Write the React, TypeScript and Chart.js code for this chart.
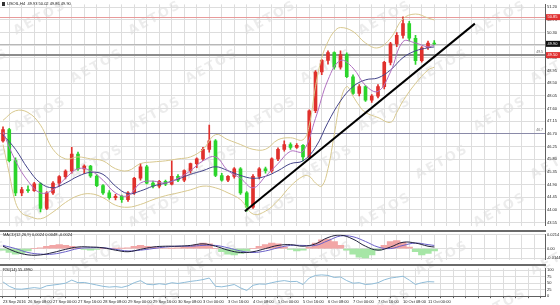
import React, { useEffect, useRef } from 'react';
import { Chart, registerables } from 'chart.js';

Chart.register(...registerables);

// ---------------- data ----------------
const TITLE_MAIN = 'USOIL,H4  49.93 50.02 49.86 49.90';
const TITLE_MACD = 'MACD(12,26,9) 0.0024 0.0048 -0.0024';
const TITLE_RSI = 'RSI(14) 55.4990';

const OPEN = [46.45, 46.85, 45.75, 44.60, 44.72, 44.68, 44.92, 44.05, 44.60, 44.95, 45.18, 45.38, 45.98, 45.45, 45.55, 45.20, 44.86, 44.60, 44.43, 44.48,
  44.36, 44.60, 45.12, 45.53, 44.95, 44.84, 45.01, 44.91, 45.19, 45.05, 45.39, 45.64, 45.81, 46.15, 46.45, 45.22, 45.05, 45.19, 45.46, 44.60,
  44.09, 45.19, 45.46, 45.39, 45.81, 46.15, 46.32, 46.22, 46.29, 45.88, 47.52, 48.90, 49.31, 49.59, 49.07, 49.52, 48.73, 48.14, 48.38, 47.90,
  48.04, 48.38, 49.24, 49.90, 50.20, 50.62, 50.10, 49.30, 49.76, 49.93];
const HIGH = [46.95, 46.90, 45.85, 44.80, 44.85, 44.98, 44.96, 44.65, 45.00, 45.22, 45.42, 46.22, 46.05, 45.60, 45.58, 45.25, 44.90, 44.68, 44.55, 44.52,
  44.65, 45.15, 45.64, 45.58, 45.02, 45.05, 45.06, 45.74, 45.25, 45.42, 45.66, 45.85, 46.22, 47.01, 46.50, 45.30, 45.22, 45.50, 45.50, 44.65,
  45.25, 45.50, 45.52, 45.85, 46.20, 46.45, 46.38, 46.35, 46.32, 47.55, 48.95, 49.35, 49.65, 49.62, 49.65, 49.58, 48.80, 48.45, 48.42, 48.10,
  48.45, 49.28, 49.95, 50.30, 50.86, 50.70, 50.20, 49.80, 50.00, 50.02];
const LOW = [46.40, 45.70, 44.50, 44.50, 44.62, 44.65, 43.92, 44.00, 44.55, 44.85, 45.10, 45.30, 45.40, 45.28, 45.15, 44.82, 44.55, 44.38, 44.35, 44.26,
  44.30, 44.55, 45.05, 44.92, 44.78, 44.78, 44.86, 44.88, 45.00, 45.00, 45.30, 45.50, 45.75, 46.05, 45.18, 45.02, 45.00, 45.12, 44.55, 43.95,
  44.05, 45.10, 45.30, 45.33, 45.75, 46.08, 46.15, 46.18, 45.74, 45.85, 47.45, 48.80, 49.18, 49.00, 49.00, 48.70, 48.10, 48.05, 47.85, 47.82,
  47.98, 48.30, 49.15, 49.80, 50.10, 50.00, 49.17, 49.25, 49.70, 49.86];
const CLOSE = [46.85, 45.75, 44.60, 44.72, 44.68, 44.92, 44.05, 44.60, 44.95, 45.18, 45.38, 45.98, 45.45, 45.55, 45.20, 44.86, 44.60, 44.43, 44.48, 44.36,
  44.60, 45.12, 45.53, 44.95, 44.84, 45.01, 44.91, 45.19, 45.05, 45.39, 45.64, 45.81, 46.15, 46.45, 45.22, 45.05, 45.19, 45.46, 44.60, 44.09,
  45.19, 45.46, 45.39, 45.81, 46.15, 46.32, 46.22, 46.29, 45.88, 47.52, 48.90, 49.31, 49.59, 49.07, 49.52, 48.73, 48.14, 48.38, 47.90, 48.04,
  48.38, 49.24, 49.90, 50.20, 50.62, 50.10, 49.30, 49.76, 49.93, 49.90];

const UPPER_IDX = [0, 2, 4, 6, 8, 10, 12, 14, 16, 18, 20, 22, 24, 26, 28, 30, 32, 34, 36, 38, 40, 42, 44, 46, 48, 49, 50, 51, 52, 53, 54, 56, 58, 60, 62, 64, 66, 68, 69];
const UPPER_VAL = [47.18, 47.52, 47.46, 47.01, 46.15, 45.81, 45.88, 45.81, 45.74, 45.46, 45.39, 45.64, 45.70, 45.74, 45.81, 45.88, 46.15, 46.67, 46.49, 46.32,
  46.15, 46.15, 46.49, 46.56, 46.49, 47.01, 48.38, 49.41, 49.98, 50.34, 50.48, 50.34, 49.93, 49.76, 50.10, 50.79, 50.96, 50.82, 50.75];
const LOWER_IDX = [0, 1, 2, 3, 4, 6, 8, 10, 12, 14, 16, 18, 20, 22, 24, 26, 28, 30, 32, 34, 36, 38, 40, 42, 44, 46, 48, 49, 50, 51, 52, 53, 54, 55, 56, 57, 58, 60, 62, 63, 64, 66, 68, 69];
const LOWER_VAL = [46.32, 45.29, 44.26, 43.88, 43.78, 43.68, 43.92, 44.26, 44.50, 44.57, 44.43, 44.16, 44.09, 44.19, 44.36, 44.50, 44.60, 44.71, 44.84, 44.78,
  44.60, 44.36, 43.85, 43.95, 44.33, 44.84, 45.19, 45.19, 44.95, 44.84, 45.46, 46.67, 47.87, 48.38, 48.04, 47.70, 47.46, 47.28, 47.11, 47.46,
  47.87, 48.49, 48.97, 49.07];

const MA_IDX = [0, 2, 4, 6, 8, 10, 12, 14, 16, 18, 20, 22, 24, 26, 28, 30, 32, 34, 36, 38, 40, 42, 44, 46, 48, 50, 52, 54, 56, 58, 60, 62, 64, 66, 68, 69];
const MA_SLOW = [46.67, 46.15, 45.46, 44.95, 44.78, 44.95, 45.19, 45.33, 45.26, 44.84, 44.57, 44.67, 44.84, 44.95, 45.09, 45.26, 45.39, 45.53, 45.39, 45.22,
  45.12, 45.19, 45.39, 45.64, 45.74, 46.22, 47.11, 47.87, 48.38, 48.62, 48.69, 48.97, 49.41, 49.65, 49.76, 49.79];
const MA_FAST = [46.77, 45.74, 45.02, 44.60, 44.71, 45.12, 45.46, 45.39, 45.05, 44.60, 44.50, 44.95, 45.02, 44.95, 45.12, 45.39, 45.74, 45.88, 45.39, 45.12,
  44.78, 45.19, 45.64, 46.08, 46.08, 47.25, 48.62, 49.31, 49.04, 48.42, 48.21, 48.90, 49.98, 49.93, 49.79, 49.86];

const MACD_HIST = [-0.0024, -0.0060, -0.0084, -0.0072, -0.0036, 0.0000, 0.0012, 0.0036, 0.0048, 0.0060,
  0.0048, 0.0036, 0.0012, -0.0012, -0.0024, -0.0012, 0.0000, 0.0000, 0.0004, 0.0004,
  0.0012, 0.0036, 0.0048, 0.0036, 0.0024, 0.0012, 0.0006, 0.0004, 0.0012, 0.0024,
  0.0036, 0.0060, 0.0084, 0.0072, 0.0000, -0.0048, -0.0084, -0.0096, -0.0072, -0.0036,
  0.0000, 0.0036, 0.0060, 0.0084, 0.0072, 0.0024, -0.0012, -0.0036, -0.0024, 0.0024,
  0.0084, 0.0132, 0.0144, 0.0108, 0.0048, -0.0024, -0.0084, -0.0132, -0.0144, -0.0096,
  -0.0024, 0.0048, 0.0108, 0.0120, 0.0096, 0.0024, -0.0048, -0.0096, -0.0072, -0.0036];
const MACD_MAIN = [0.0036, -0.0048, -0.0096, -0.0096, -0.0060, -0.0012, 0.0024, 0.0024, 0.0012, -0.0024, -0.0048, -0.0012, 0.0024, 0.0036, 0.0036, 0.0048,
  0.0072, 0.0036, -0.0024, -0.0060, -0.0048, 0.0000, 0.0048, 0.0060, 0.0036, 0.0072, 0.0168, 0.0204, 0.0144, 0.0036, -0.0024, 0.0024, 0.0096, 0.0084, 0.0036, 0.0024];
const MACD_SIGNAL = [0.0048, 0.0000, -0.0060, -0.0084, -0.0084, -0.0048, 0.0000, 0.0012, 0.0012, -0.0012, -0.0036, -0.0024, 0.0000, 0.0024, 0.0036, 0.0036,
  0.0048, 0.0048, 0.0012, -0.0036, -0.0060, -0.0036, 0.0012, 0.0048, 0.0048, 0.0048, 0.0120, 0.0192, 0.0180, 0.0108, 0.0024, 0.0000, 0.0048, 0.0084, 0.0060, 0.0048];

const RSI = [55, 38, 28, 27, 30, 33, 30, 40, 43, 46, 50, 62, 52, 53, 48, 43, 38, 35, 37, 34,
  40, 52, 60, 46, 44, 48, 45, 52, 49, 53, 57, 60, 64, 70, 38, 36, 40, 45, 32, 22,
  42, 47, 46, 52, 57, 60, 56, 57, 45, 70, 80, 82, 80, 72, 74, 60, 50, 52, 45, 47,
  52, 63, 70, 73, 77, 62, 45, 52, 56, 55];

const TIME_LABELS = ['23 Sep 2016', '26 Sep 08:00', '27 Sep 00:00', '27 Sep 16:00', '28 Sep 08:00', '29 Sep 00:00', '29 Sep 16:00', '30 Sep 08:00',
  '3 Oct 00:00', '3 Oct 16:00', '4 Oct 08:00', '5 Oct 00:00', '5 Oct 16:00', '6 Oct 08:00', '7 Oct 00:00', '7 Oct 16:00', '10 Oct 08:00', '11 Oct 00:00'];

const PRICE_TICKS = [51.20, 50.75, 50.30, 49.85, 49.40, 48.95, 48.50, 48.05, 47.60, 47.15, 46.70, 46.25, 45.80, 45.35, 44.90, 44.45, 44.00, 43.55];
const MACD_TICKS = [0.0214, 0, -0.0144];
const RSI_TICKS = [100, 75, 50, 25, 0];

const TREND_X = [38.7, 75.5];
const TREND_Y = [43.95, 50.62];

const LEVEL_HIGH = 50.85;
const LEVEL_SUPPORT = 49.50;
const LEVEL_LOW = 46.73;

// ---------------- style ----------------
const FONT = '"Liberation Sans", Arial, sans-serif';
const GRID = '#dddddd';
const AXIS = '#606060';
const UP = '#e0302c';
const DOWN = '#2bd42b';
const X_MIN = -0.48;
const X_MAX = 86.72;

const WM_POS: [number, number][] = [];
for (let r = 0; r < 7; r++) {
  for (let c = -1; c < 6; c++) {
    WM_POS.push([40 + c * 115 + (r % 2) * 57, 18 + r * 48]);
  }
}

function watermark(offsetY: number) {
  return {
    id: 'wm' + offsetY,
    beforeDraw(chart: any) {
      const ctx = chart.ctx;
      ctx.save();
      ctx.font = 'bold 13px "DejaVu Sans", sans-serif';
      ctx.fillStyle = 'rgba(0,0,0,0.075)';
      ctx.textAlign = 'center';
      ctx.textBaseline = 'middle';
      try { (ctx as any).letterSpacing = '2px'; } catch (e) { /* ignore */ }
      for (const [x, y] of WM_POS) {
        const yy = y - offsetY;
        if (yy < -30 || yy > chart.height + 30) continue;
        ctx.save();
        ctx.translate(x, yy);
        ctx.rotate(-0.5);
        ctx.fillText('AETOS', 0, 0);
        ctx.restore();
      }
      ctx.restore();
    },
  };
}

function xScale(showLabels: boolean): any {
  return {
    type: 'linear',
    min: X_MIN,
    max: X_MAX,
    offset: false,
    afterBuildTicks: (s: any) => {
      const t = [];
      for (let v = 0; v <= 86; v += 2) t.push({ value: v });
      s.ticks = t;
    },
    grid: { color: GRID, lineWidth: 1, drawTicks: showLabels, tickLength: 2, tickColor: AXIS },
    border: { display: showLabels, color: AXIS },
    ticks: showLabels
      ? {
          display: true, autoSkip: false, maxRotation: 0, minRotation: 0, align: 'start', padding: 1,
          font: { size: 4, family: FONT }, color: '#222',
          callback: (v: any) => {
            const n = Math.round(Number(v));
            return n % 4 === 0 && n / 4 < TIME_LABELS.length ? TIME_LABELS[n / 4] : '';
          },
        }
      : { display: false },
  };
}

function yScale(min: number, max: number, ticks: number[], fmt: (v: number) => string): any {
  return {
    type: 'linear',
    position: 'right',
    min, max,
    afterBuildTicks: (s: any) => { s.ticks = ticks.map((v) => ({ value: v })); },
    afterFit: (s: any) => { s.width = 15; },
    grid: { color: GRID, drawTicks: false },
    border: { display: true, color: AXIS, width: 1 },
    ticks: { autoSkip: false, padding: 2, font: { size: 4, family: FONT }, color: '#222', callback: (v: any) => fmt(Number(v)) },
  };
}

function pts(idx: number[], vals: number[]) {
  return idx.map((x, i) => ({ x, y: vals[i] }));
}

const baseOptions = {
  responsive: false,
  animation: false as const,
  devicePixelRatio: 1,
  events: [] as any[],
};

function separator() {
  return {
    id: 'sep',
    afterDraw(chart: any) {
      const ctx = chart.ctx;
      ctx.save();
      ctx.fillStyle = '#6a6a6a';
      ctx.fillRect(0, 0, chart.chartArea.right + 1, 2);
      ctx.restore();
    },
  };
}

function title(text: string, y: number, icon: boolean) {
  return {
    id: 'title' + text.length,
    afterDraw(chart: any) {
      const ctx = chart.ctx;
      ctx.save();
      ctx.font = '4px ' + FONT;
      ctx.fillStyle = '#111';
      ctx.textBaseline = 'middle';
      let x = 3;
      if (icon) {
        ctx.fillStyle = '#333';
        ctx.fillRect(2, y - 2, 3, 4);
        ctx.fillStyle = '#111';
        x = 7;
      }
      ctx.fillText(text, x, y);
      ctx.restore();
    },
  };
}

const mainDeco = {
  id: 'mainDeco',
  beforeDatasetsDraw(chart: any) {
    const ctx = chart.ctx;
    const ys = chart.scales.y;
    const { left, right } = chart.chartArea;
    ctx.save();
    const line = (v: number, color: string, w: number) => {
      const y = Math.round(ys.getPixelForValue(v)) + (w % 2 ? 0.5 : 0);
      ctx.strokeStyle = color;
      ctx.lineWidth = w;
      ctx.beginPath();
      ctx.moveTo(left, y);
      ctx.lineTo(right, y);
      ctx.stroke();
    };
    line(LEVEL_HIGH, '#e89a9a', 1);
    line(CLOSE[CLOSE.length - 1], '#b8b8b8', 1);
    line(LEVEL_SUPPORT, '#8c8c8c', 2);
    line(LEVEL_LOW, '#8a8aa8', 1);
    ctx.font = '3.5px ' + FONT;
    ctx.fillStyle = '#666';
    ctx.textAlign = 'right';
    ctx.textBaseline = 'bottom';
    ctx.fillText(LEVEL_SUPPORT.toFixed(1), right - 2, ys.getPixelForValue(LEVEL_SUPPORT) - 1);
    ctx.fillText(LEVEL_LOW.toFixed(1), right - 2, ys.getPixelForValue(LEVEL_LOW) - 1);
    ctx.restore();
  },
  afterDraw(chart: any) {
    const ctx = chart.ctx;
    const ys = chart.scales.y;
    const { right } = chart.chartArea;
    ctx.save();
    const box = (v: number, bg: string) => {
      const y = ys.getPixelForValue(v);
      ctx.fillStyle = bg;
      ctx.fillRect(right + 1, y - 3, 14, 6);
      ctx.fillStyle = '#fff';
      ctx.font = '4px ' + FONT;
      ctx.textBaseline = 'middle';
      ctx.textAlign = 'left';
      ctx.fillText(v.toFixed(2), right + 2.5, y);
    };
    box(LEVEL_HIGH, '#e03030');
    box(CLOSE[CLOSE.length - 1], '#111');
    box(LEVEL_SUPPORT, '#e03030');
    ctx.restore();
  },
};

export default function App() {
  const mainRef = useRef<HTMLCanvasElement>(null);
  const macdRef = useRef<HTMLCanvasElement>(null);
  const rsiRef = useRef<HTMLCanvasElement>(null);

  useEffect(() => {
    const charts: Chart[] = [];
    const idx = OPEN.map((_, i) => i);
    const candleColors = OPEN.map((o, i) => (CLOSE[i] >= o ? UP : DOWN));

    charts.push(new Chart(mainRef.current as HTMLCanvasElement, {
      type: 'bar',
      data: {
        datasets: [
          { type: 'line', data: pts(TREND_X, TREND_Y), borderColor: '#000', borderWidth: 2, pointRadius: 0, order: 0 } as any,
          { type: 'line', data: pts(MA_IDX, MA_FAST), borderColor: '#b070c0', borderWidth: 1, pointRadius: 0, tension: 0.4, order: 1 } as any,
          { type: 'line', data: pts(MA_IDX, MA_SLOW), borderColor: '#45458a', borderWidth: 1, pointRadius: 0, tension: 0.4, order: 1 } as any,
          { type: 'line', data: pts(UPPER_IDX, UPPER_VAL), borderColor: '#d8c88e', borderWidth: 1, pointRadius: 0, tension: 0.4, order: 2 } as any,
          { type: 'line', data: pts(LOWER_IDX, LOWER_VAL), borderColor: '#d8c88e', borderWidth: 1, pointRadius: 0, tension: 0.4, order: 2 } as any,
          { type: 'bar', data: idx.map((i) => ({ x: i, y: [OPEN[i], CLOSE[i]] })), backgroundColor: candleColors, barThickness: 3, grouped: false, order: 3 } as any,
          { type: 'bar', data: idx.map((i) => ({ x: i, y: [LOW[i], HIGH[i]] })), backgroundColor: candleColors, barThickness: 1, grouped: false, order: 4 } as any,
        ],
      },
      options: {
        ...baseOptions,
        layout: { padding: { left: 0, right: 0, top: 0, bottom: 1 } },
        plugins: { legend: { display: false }, tooltip: { enabled: false } },
        scales: { x: xScale(false), y: yScale(43.437, 51.303, PRICE_TICKS, (v) => v.toFixed(2)) },
      } as any,
      plugins: [watermark(0), mainDeco, title(TITLE_MAIN, 4, true)],
    }));

    charts.push(new Chart(macdRef.current as HTMLCanvasElement, {
      type: 'bar',
      data: {
        datasets: [
          { type: 'line', data: pts(MA_IDX, MACD_MAIN), borderColor: '#20203c', borderWidth: 1, pointRadius: 0, tension: 0.4, order: 0 } as any,
          { type: 'line', data: pts(MA_IDX, MACD_SIGNAL), borderColor: '#6a60c8', borderWidth: 1, pointRadius: 0, tension: 0.4, order: 0 } as any,
          {
            type: 'bar', data: idx.map((i) => ({ x: i, y: MACD_HIST[i] })),
            backgroundColor: MACD_HIST.map((v) => (v >= 0 ? '#f2a6a6' : '#a6e6a6')),
            barThickness: 6.6, grouped: false, order: 1,
          } as any,
        ],
      },
      options: {
        ...baseOptions,
        layout: { padding: { left: 0, right: 0, top: 2, bottom: 0 } },
        plugins: { legend: { display: false }, tooltip: { enabled: false } },
        scales: {
          x: xScale(false),
          y: yScale(-0.0168, 0.0216, MACD_TICKS, (v) => (v === 0 ? '0.00' : v.toFixed(4))),
        },
      } as any,
      plugins: [watermark(230), separator(), title(TITLE_MACD, 5, false)],
    }));

    charts.push(new Chart(rsiRef.current as HTMLCanvasElement, {
      type: 'line',
      data: {
        datasets: [
          { data: idx.map((i) => ({ x: i, y: RSI[i] })), borderColor: '#8fbcd8', borderWidth: 1, pointRadius: 0, tension: 0 } as any,
        ],
      },
      options: {
        ...baseOptions,
        layout: { padding: { left: 0, right: 0, top: 2, bottom: 0 } },
        plugins: { legend: { display: false }, tooltip: { enabled: false } },
        scales: {
          x: xScale(true),
          y: yScale(0, 107, RSI_TICKS, (v) => String(v)),
        },
      } as any,
      plugins: [watermark(264), separator(), title(TITLE_RSI, 6, false)],
    }));

    return () => charts.forEach((c) => c.destroy());
  }, []);

  return (
    <div style={{ width: 560, background: '#fff' }}>
      <style>{'body{margin:0;background:#fff;}'}</style>
      <canvas ref={mainRef} width={560} height={230} style={{ display: 'block' }} />
      <canvas ref={macdRef} width={560} height={34} style={{ display: 'block' }} />
      <canvas ref={rsiRef} width={560} height={41} style={{ display: 'block' }} />
    </div>
  );
}
